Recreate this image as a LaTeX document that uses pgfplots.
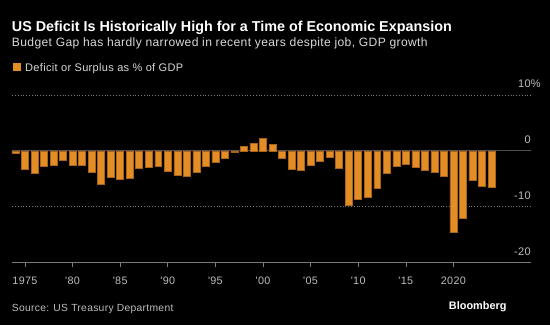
\documentclass[border=0pt]{standalone}
\usepackage{fontspec}
\setmainfont{Liberation Sans}
\newfontfamily\titlefont{Liberation Sans}
\newfontfamily\bodyfont[LetterSpace=3]{Liberation Sans}
\usepackage{pgfplots}
\usepackage{pgfplotstable}
\pgfplotsset{compat=1.18}
\definecolor{barfill}{HTML}{E38D26}
\definecolor{baredge}{HTML}{A8641A}
\definecolor{ticktext}{HTML}{BDBDBD}
\definecolor{subtext}{HTML}{D8D8D8}
\definecolor{gridc}{HTML}{7A7A7A}
\pgfplotstableread{
year value
1974 -0.4
1975 -3.3
1976 -4.0
1977 -2.7
1978 -2.6
1979 -1.6
1980 -2.6
1981 -2.5
1982 -3.9
1983 -5.9
1984 -4.7
1985 -5.0
1986 -4.9
1987 -3.1
1988 -3.0
1989 -2.7
1990 -3.7
1991 -4.4
1992 -4.5
1993 -3.8
1994 -2.8
1995 -2.1
1996 -1.4
1997 -0.3
1998 0.8
1999 1.4
2000 2.3
2001 1.2
2002 -1.4
2003 -3.3
2004 -3.4
2005 -2.5
2006 -1.8
2007 -1.1
2008 -3.1
2009 -9.7
2010 -8.6
2011 -8.3
2012 -6.6
2013 -4.0
2014 -2.8
2015 -2.3
2016 -3.0
2017 -3.4
2018 -3.8
2019 -4.6
2020 -14.6
2021 -12.0
2022 -5.3
2023 -6.3
2024 -6.5
}\deficit
\begin{document}
\begin{tikzpicture}[x=1pt,y=1pt]
\fill[black] (0,0) rectangle (550,325);
% header
\node[anchor=base west, inner sep=0pt, text=white, font=\titlefont\bfseries\fontsize{14.35}{16}\selectfont] at (11.7,294) {US Deficit Is Historically High for a Time of Economic Expansion};
\node[anchor=base west, inner sep=0pt, text=subtext, font=\bodyfont\fontsize{12.1}{14}\selectfont] at (11.7,278.3) {Budget Gap has hardly narrowed in recent years despite job, GDP growth};
\fill[barfill] (13.3,254) rectangle (20.6,261.7);
\node[anchor=base west, inner sep=0pt, text=subtext, font=\bodyfont\fontsize{11}{13}\selectfont] at (25,253.5) {Deficit or Surplus as \% of GDP};
% footer
\node[anchor=base west, inner sep=0pt, text=ticktext, font=\bodyfont\fontsize{10.3}{12}\selectfont] at (11.7,14) {Source: US Treasury Department};
\node[anchor=base east, inner sep=0pt, text=white, font=\titlefont\bfseries\fontsize{10.9}{12}\selectfont] at (506.7,15.7) {Bloomberg};
\begin{axis}[
  at={(12.3pt,62.3pt)}, anchor=south west,
  scale only axis, width=518.7pt, height=167.7pt,
  xmin=1973.67, xmax=2028.15, ymin=-20, ymax=10,
  axis x line*=bottom, axis y line=none,
  x axis line style={draw=gridc, line width=0.8pt, -},
  xtick={1975,1980,1985,1990,1995,2000,2005,2010,2015,2020},
  xticklabels={1975,'80,'85,'90,'95,'00,'05,'10,'15,2020},
  tick align=outside, major tick length=4.5pt,
  xtick style={draw=gridc, line width=0.6pt},
  xticklabel style={text=ticktext, font=\bodyfont\fontsize{10.8}{13}\selectfont, anchor=base, yshift=-17pt},
  ytick=\empty,
  clip=false,
]
\draw[gridc, line width=0.7pt, dash pattern=on 0.8pt off 2pt] (axis cs:1973.67,10) -- (axis cs:2028.15,10);
\draw[gridc, line width=0.7pt, dash pattern=on 0.8pt off 2pt] (axis cs:1973.67,-10) -- (axis cs:2028.15,-10);
\draw[black!70!white, line width=0.9pt] (axis cs:1973.67,0) -- (axis cs:2025.6,0);
\draw[gridc!130, line width=0.9pt] (axis cs:2025.6,0) -- (axis cs:2028.15,0);
\addplot[ybar, bar width=0.73, fill=barfill, draw=baredge, line width=0.5pt] table[x=year,y=value] {\deficit};
\node[anchor=base east, inner sep=0pt, text=ticktext, font=\bodyfont\fontsize{11}{13}\selectfont] at (axis cs:2028.15,0) [yshift=7.4pt] {0};
\node[anchor=base east, inner sep=0pt, text=ticktext, font=\bodyfont\fontsize{11}{13}\selectfont] at (axis cs:2028.15,-10) [yshift=7.4pt] {-10};
\node[anchor=base east, inner sep=0pt, text=ticktext, font=\bodyfont\fontsize{11}{13}\selectfont] at (axis cs:2028.15,-20) [yshift=7.4pt] {-20};
\node[anchor=base east, inner sep=0pt, text=ticktext, font=\bodyfont\fontsize{11}{13}\selectfont] at (axis cs:2028.15,10) [yshift=7.4pt] {10\rlap{\%}};
\end{axis}
\end{tikzpicture}
\end{document}
